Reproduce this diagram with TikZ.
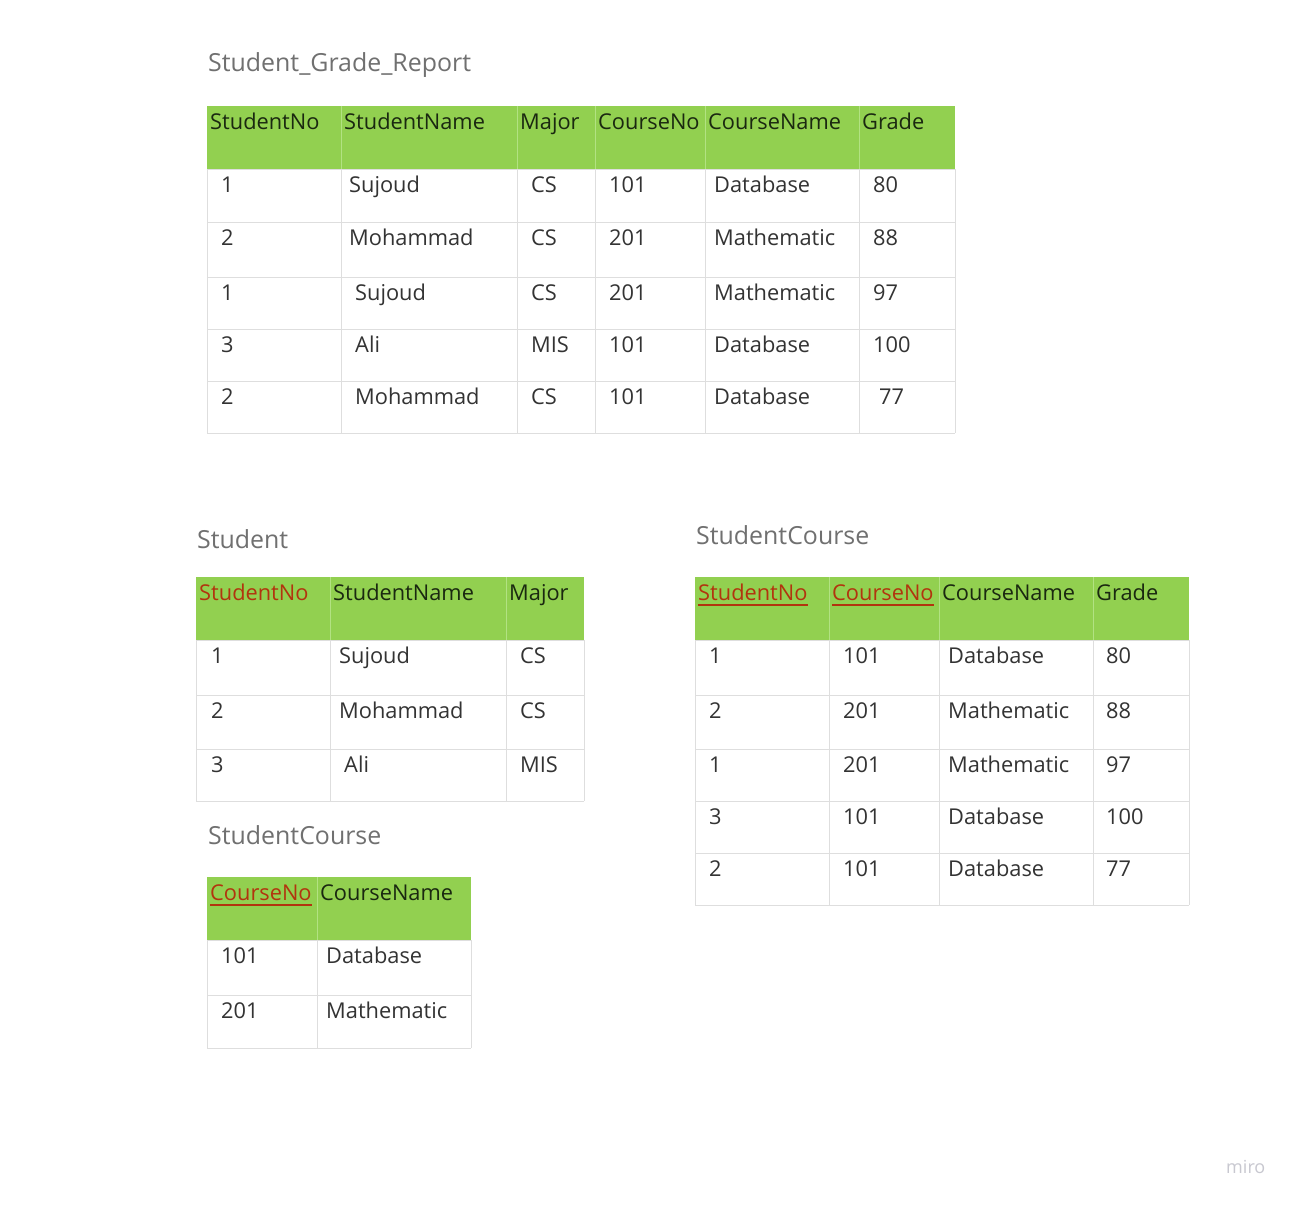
\documentclass[tikz,border=0pt]{standalone}
\usepackage{fontspec}
\setmainfont{Open Sans}
\usepackage{tikz}

\definecolor{hdrgreen}{RGB}{146,208,80}
\definecolor{hdrsepgreen}{RGB}{178,226,130}
\definecolor{gridgray}{RGB}{222,222,222}
\definecolor{keyred}{RGB}{178,52,14}
\definecolor{ttlgray}{RGB}{112,112,112}
\definecolor{txtgray}{RGB}{51,51,51}
\definecolor{hdrtxt}{RGB}{26,40,16}
\definecolor{logogray}{RGB}{200,200,208}

\tikzset{
	cell/.style={anchor=base west, inner sep=0pt, text=txtgray, font=\fontsize{21.8}{26}\selectfont},
	hdr/.style={cell, text=hdrtxt},
	keyhdr/.style={cell, text=keyred},
	ttl/.style={anchor=base west, inner sep=0pt, text=ttlgray, font=\fontsize{24.9}{30}\selectfont},
	gridline/.style={draw=gridgray, line width=1pt},
	hdrsep/.style={draw=hdrsepgreen, line width=1pt},
	keyline/.style={draw=keyred, line width=1.8pt},
}

\begin{document}
\begin{tikzpicture}[x=1pt,y=-1pt]
	\useasboundingbox[fill=white] (0,0) rectangle (1297,1204);

	% Student_Grade_Report
	\node[ttl] (gtitle) at (208,72) {Student\_Grade\_Report};
	\fill[hdrgreen] (207,106) rectangle (955,169);
	\foreach \y in {169,222,277,329,381,433} \draw[gridline] (207,\y) -- (955,\y);
	\foreach \x in {207,955} \draw[gridline] (\x,169) -- (\x,433);
	\foreach \x in {341,517,595,705,859} {
		\draw[gridline] (\x,169) -- (\x,433);
		\draw[hdrsep] (\x,106) -- (\x,169);
	}
	\foreach \x/\t [count=\c] in {210/StudentNo, 344/StudentName, 520/Major, 598/CourseNo, 708/CourseName, 862/Grade}
		\node[hdr] (gh\c) at (\x,129) {\t};
	\foreach \x/\t [count=\c] in {221/1, 349/Sujoud, 531/CS, 609/101, 714/Database, 873/80}
		\node[cell] (ga\c) at (\x,192) {\t};
	\foreach \x/\t [count=\c] in {221/2, 349/Mohammad, 531/CS, 609/201, 714/Mathematic, 873/88}
		\node[cell] (gb\c) at (\x,245) {\t};
	\foreach \x/\t [count=\c] in {221/1, 355/Sujoud, 531/CS, 609/201, 714/Mathematic, 873/97}
		\node[cell] (gc\c) at (\x,300) {\t};
	\foreach \x/\t [count=\c] in {221/3, 355/Ali, 531/MIS, 609/101, 714/Database, 873/100}
		\node[cell] (gd\c) at (\x,352) {\t};
	\foreach \x/\t [count=\c] in {221/2, 355/Mohammad, 531/CS, 609/101, 714/Database, 879/77}
		\node[cell] (ge\c) at (\x,404) {\t};

	% Student
	\node[ttl] (stitle) at (197,548) {Student};
	\fill[hdrgreen] (196,577) rectangle (584,640);
	\foreach \y in {640,695,749,801} \draw[gridline] (196,\y) -- (584,\y);
	\foreach \x in {196,584} \draw[gridline] (\x,640) -- (\x,801);
	\foreach \x in {330,506} {
		\draw[gridline] (\x,640) -- (\x,801);
		\draw[hdrsep] (\x,577) -- (\x,640);
	}
	\node[keyhdr] (sh1) at (199,600) {StudentNo};
	\node[hdr] (sh2) at (333,600) {StudentName};
	\node[hdr] (sh3) at (509,600) {Major};
	\foreach \x/\t [count=\c] in {211/1, 339/Sujoud, 520/CS}
		\node[cell] (sa\c) at (\x,663) {\t};
	\foreach \x/\t [count=\c] in {211/2, 339/Mohammad, 520/CS}
		\node[cell] (sb\c) at (\x,718) {\t};
	\foreach \x/\t [count=\c] in {211/3, 344/Ali, 520/MIS}
		\node[cell] (sc\c) at (\x,772) {\t};

	% StudentCourse (courses)
	\node[ttl] (ctitle) at (208,844) {StudentCourse};
	\fill[hdrgreen] (207,877) rectangle (471,940);
	\foreach \y in {940,995,1048} \draw[gridline] (207,\y) -- (471,\y);
	\foreach \x in {207,471} \draw[gridline] (\x,940) -- (\x,1048);
	\draw[gridline] (317,940) -- (317,1048);
	\draw[hdrsep] (317,877) -- (317,940);
	\node[keyhdr] (ch1) at (210,900) {CourseNo};
	\node[hdr] (ch2) at (320,900) {CourseName};
	\draw[keyline] ([yshift=-5pt]ch1.base west) -- ([yshift=-5pt]ch1.base east);
	\foreach \x/\t [count=\c] in {221/101, 326/Database}
		\node[cell] (ca\c) at (\x,963) {\t};
	\foreach \x/\t [count=\c] in {221/201, 326/Mathematic}
		\node[cell] (cb\c) at (\x,1018) {\t};

	% StudentCourse (grades)
	\node[ttl] (rtitle) at (696,544) {StudentCourse};
	\fill[hdrgreen] (695,577) rectangle (1189,640);
	\foreach \y in {640,695,749,801,853,905} \draw[gridline] (695,\y) -- (1189,\y);
	\foreach \x in {695,1189} \draw[gridline] (\x,640) -- (\x,905);
	\foreach \x in {829,939,1093} {
		\draw[gridline] (\x,640) -- (\x,905);
		\draw[hdrsep] (\x,577) -- (\x,640);
	}
	\node[keyhdr] (rh1) at (698,600) {StudentNo};
	\node[keyhdr] (rh2) at (832,600) {CourseNo};
	\node[hdr] (rh3) at (942,600) {CourseName};
	\node[hdr] (rh4) at (1096,600) {Grade};
	\draw[keyline] ([yshift=-5pt]rh1.base west) -- ([yshift=-5pt]rh1.base east);
	\draw[keyline] ([yshift=-5pt]rh2.base west) -- ([yshift=-5pt]rh2.base east);
	\foreach \x/\t [count=\c] in {709/1, 843/101, 948/Database, 1106/80}
		\node[cell] (ra\c) at (\x,663) {\t};
	\foreach \x/\t [count=\c] in {709/2, 843/201, 948/Mathematic, 1106/88}
		\node[cell] (rb\c) at (\x,718) {\t};
	\foreach \x/\t [count=\c] in {709/1, 843/201, 948/Mathematic, 1106/97}
		\node[cell] (rc\c) at (\x,772) {\t};
	\foreach \x/\t [count=\c] in {709/3, 843/101, 948/Database, 1106/100}
		\node[cell] (rd\c) at (\x,824) {\t};
	\foreach \x/\t [count=\c] in {709/2, 843/101, 948/Database, 1106/77}
		\node[cell] (re\c) at (\x,876) {\t};

	\node[anchor=base west, inner sep=0pt, text=logogray, font=\fontsize{18}{22}\selectfont] (logo) at (1226,1173) {miro};
\end{tikzpicture}
\end{document}
